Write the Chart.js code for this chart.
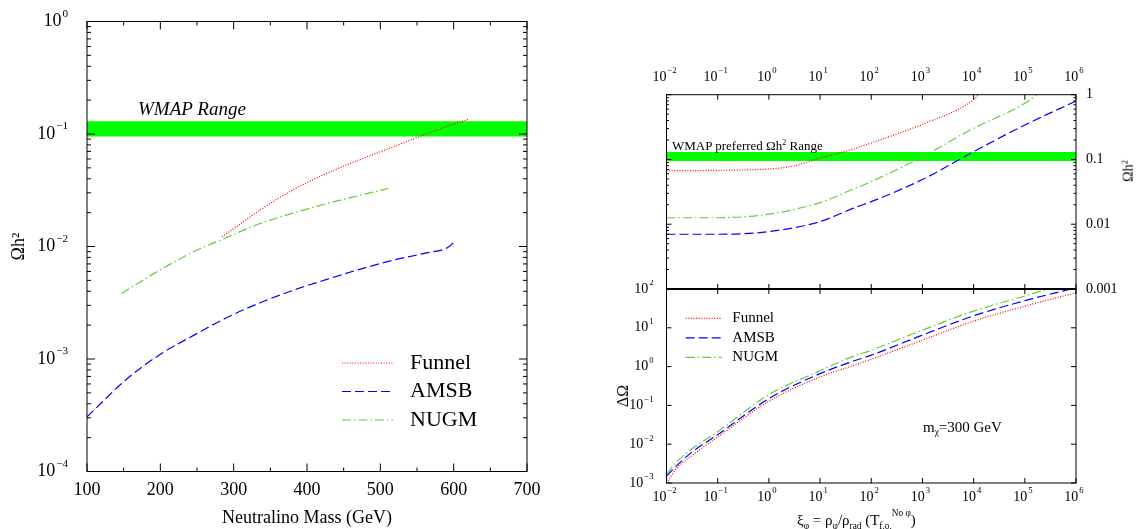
<!DOCTYPE html>
<html>
<head>
<meta charset="utf-8">
<script src="https://cdn.jsdelivr.net/npm/chart.js@4.4.1/dist/chart.umd.min.js"></script>
<style>
  html, body { margin: 0; padding: 0; background: #fff; }
  body { width: 1140px; height: 529px; position: relative; overflow: hidden;
         font-family: 'Liberation Serif', 'Times New Roman', serif; color: #000; }
  canvas { position: absolute; }
  .note { position: absolute; white-space: nowrap; line-height: 1; }
  .note sub { font-size: 0.62em; vertical-align: -0.35em; }
  .note sup { font-size: 0.62em; vertical-align: 0.55em; }
</style>
</head>
<body>
<canvas id="massChart" width="560" height="529" style="left:0;top:0"></canvas>
<canvas id="relicChart" width="560" height="300" style="left:580px;top:0"></canvas>
<canvas id="deltaChart" width="560" height="249" style="left:580px;top:280px"></canvas>

<div class="note" style="left:138px;top:108px;font-size:19px;font-style:italic;transform:translateY(-50%)">WMAP Range</div>
<div class="note" style="left:672px;top:145px;font-size:13px;transform:translateY(-50%)">WMAP preferred Ωh<sup>2</sup> Range</div>
<div class="note" style="left:1128px;top:171px;font-size:14px;transform:translate(-50%,-50%) rotate(-90deg)">Ωh<sup>2</sup></div>
<div class="note" style="left:623px;top:396px;font-size:16px;transform:translate(-50%,-50%) rotate(-90deg)">ΔΩ</div>
<div class="note" style="left:923px;top:429px;font-size:15px;transform:translateY(-50%)">m<sub>χ</sub>=300 GeV</div>
<div class="note" style="left:797px;top:520px;font-size:15px;transform:translateY(-50%)">ξ<sub>φ</sub> = ρ<sub>φ</sub>/ρ<sub>rad</sub> (T<sub>f.o.</sub><sup style="vertical-align:1em">No φ</sup>)</div>

<script>
const SERIF = "'Liberation Serif', 'Times New Roman', serif";
const RED = '#ff0000', BLUE = '#0000ff', GREEN = 'rgb(102,204,51)';

// left panel : relic density against neutralino mass
const funnelMass  = [284, 300, 336, 382, 427, 473, 518, 564, 590, 620];
const funnelOmega = [0.0122, 0.0144, 0.0211, 0.0322, 0.0447, 0.0595, 0.077, 0.101, 0.116, 0.135];
const amsbMass  = [100, 155, 200, 246, 291, 336, 382, 427, 473, 518, 560, 593, 603];
const amsbOmega = [0.000306, 0.00067, 0.0011, 0.00163, 0.00234, 0.00316, 0.0041, 0.0051, 0.0063, 0.00757, 0.0087, 0.0099, 0.0114];
const nugmMass  = [147, 200, 245, 282, 336, 382, 427, 473, 511];
const nugmOmega = [0.00383, 0.0062, 0.00897, 0.0114, 0.016, 0.0199, 0.0241, 0.0286, 0.0328];

const wmapRange = [0.095, 0.13];

// right top : relic density against xi
const funnelXi    = [0.01, 0.1, 1, 3, 10, 45, 100, 1000, 10000, 12600];
const funnelRelic = [0.067, 0.068, 0.0713, 0.079, 0.105, 0.145, 0.18, 0.35, 0.83, 1.0];
const amsbXi      = [0.01, 0.1, 1, 10, 45, 100, 1000, 10000, 100000, 1000000];
const amsbRelic   = [0.007, 0.007, 0.0077, 0.011, 0.0177, 0.0223, 0.049, 0.132, 0.34, 0.8];
const nugmXi      = [0.01, 0.1, 1, 10, 45, 100, 1000, 10000, 100000, 170000];
const nugmRelic   = [0.0126, 0.0126, 0.0143, 0.0216, 0.035, 0.0455, 0.11, 0.303, 0.736, 1.0];

// right bottom : delta omega against xi
const funnelDeltaXi = [0.01, 0.0158, 0.0316, 0.1, 1, 10, 37, 100, 1000, 10000, 100000, 1000000];
const funnelDelta   = [0.001, 0.0024, 0.0051, 0.0153, 0.128, 0.54, 0.98, 1.55, 4.8, 14.9, 36, 80];
const amsbDeltaXi   = [0.01, 0.0158, 0.0316, 0.1, 1, 10, 37, 100, 1000, 10000, 100000, 800000];
const amsbDelta     = [0.0015, 0.0028, 0.0063, 0.0176, 0.15, 0.66, 1.27, 1.97, 6.5, 20.4, 50, 100];
const nugmDeltaXi   = [0.01, 0.0158, 0.0316, 0.1, 1, 10, 37, 100, 1000, 10000, 100000, 280000];
const nugmDelta     = [0.0017, 0.0035, 0.0076, 0.021, 0.19, 0.78, 1.68, 2.65, 8.7, 27, 66, 100];

// tick values
const massTicks = [100, 200, 300, 400, 500, 600, 700];
const massMinor = [150, 250, 350, 450, 550, 650];
const omegaDecades = [1, 0.1, 0.01, 0.001, 0.0001];
const xiDecades = [0.01, 0.1, 1, 10, 100, 1000, 10000, 100000, 1000000];
const relicDecades = [1, 0.1, 0.01, 0.001];
const deltaDecades = [100, 10, 1, 0.1, 0.01, 0.001];
const keyLabels = ['Funnel', 'AMSB', 'NUGM'];

function pts(xs, ys) { return xs.map((x, i) => ({ x: x, y: ys[i] })); }

function minorsOf(decades) {
  let out = [];
  decades.forEach(d => { for (let m = 2; m < 10; m++) out.push(m * d); });
  return out;
}

function expText(v) {
  let e = Math.round(Math.log10(v));
  return e < 0 ? '\u2212' + (-e) : String(e);
}

function curve(label, data, color, dash) {
  return { label: label, data: data, borderColor: color, borderDash: dash, borderWidth: 1.2,
           pointRadius: 0, fill: false, cubicInterpolationMode: 'monotone', order: 0 };
}

function band(xMin, xMax) {
  return [
    { label: 'WMAP low', data: [{ x: xMin, y: wmapRange[0] }, { x: xMax, y: wmapRange[0] }],
      borderColor: 'rgba(0,0,0,0)', borderWidth: 0, pointRadius: 0, fill: false, order: 5 },
    { label: 'WMAP high', data: [{ x: xMin, y: wmapRange[1] }, { x: xMax, y: wmapRange[1] }],
      borderColor: 'rgba(0,0,0,0)', borderWidth: 0, pointRadius: 0, fill: '-1',
      backgroundColor: '#00ff00', order: 5 }
  ];
}

// frame round the plot with inward ticks on every side
function frameTicks(o) {
  return {
    id: 'frameTicks',
    afterDatasetsDraw(chart) {
      const ctx = chart.ctx, a = chart.chartArea;
      const sx = chart.scales.x, sy = chart.scales.y;
      ctx.save();
      ctx.strokeStyle = '#000';
      ctx.lineWidth = 1;
      ctx.strokeRect(a.left, a.top, a.right - a.left, a.bottom - a.top);
      if (o.thickTop) {
        ctx.lineWidth = 2.2;
        ctx.beginPath(); ctx.moveTo(a.left, a.top); ctx.lineTo(a.right, a.top); ctx.stroke();
      }
      ctx.lineWidth = 1;
      const seg = (x1, y1, x2, y2) => { ctx.beginPath(); ctx.moveTo(x1, y1); ctx.lineTo(x2, y2); ctx.stroke(); };
      [[o.x.major, o.x.len], [o.x.minor || [], o.x.minorLen]].forEach(([vals, len]) => {
        vals.forEach(v => {
          const p = sx.getPixelForValue(v);
          if (o.x.sides.includes('bottom')) seg(p, a.bottom, p, a.bottom - len);
          if (o.x.sides.includes('top')) seg(p, a.top, p, a.top + len);
        });
      });
      [[o.y.major, o.y.len], [o.y.minor || [], o.y.minorLen]].forEach(([vals, len]) => {
        vals.forEach(v => {
          const p = sy.getPixelForValue(v);
          if (o.y.sides.includes('left')) seg(a.left, p, a.left + len, p);
          if (o.y.sides.includes('right')) seg(a.right, p, a.right - len, p);
        });
      });
      ctx.restore();
    }
  };
}

// tick labels, plain or as powers of ten
function tickText(items) {
  return {
    id: 'tickText',
    afterDraw(chart) {
      const ctx = chart.ctx, a = chart.chartArea;
      items.forEach(it => {
        const s = chart.scales[it.scale];
        ctx.save();
        ctx.fillStyle = '#000';
        ctx.textAlign = 'left';
        ctx.textBaseline = 'middle';
        it.values.forEach(v => {
          const p = s.getPixelForValue(v);
          const base = it.power ? '10' : String(v);
          const exp = it.power ? expText(v) : '';
          ctx.font = it.size + 'px ' + SERIF;
          const wb = ctx.measureText(base).width;
          ctx.font = (it.size * 0.62) + 'px ' + SERIF;
          const we = exp ? ctx.measureText(exp).width + 1 : 0;
          let x, y;
          if (it.side === 'left') { x = a.left - it.gap - wb - we; y = p; }
          else if (it.side === 'right') { x = a.right + it.gap; y = p; }
          else {
            x = p - (wb + we) / 2 + (it.shift || 0);
            y = it.side === 'bottom' ? a.bottom + it.gap : a.top - it.gap;
          }
          ctx.font = it.size + 'px ' + SERIF;
          ctx.fillText(base, x, y);
          if (exp) {
            ctx.font = (it.size * 0.62) + 'px ' + SERIF;
            ctx.fillText(exp, x + wb + 1, y - it.size * 0.42);
          }
        });
        ctx.restore();
      });
    }
  };
}

// key drawn inside the plot: line sample then name
function lineKey(o) {
  return {
    id: 'lineKey',
    afterDraw(chart) {
      const ctx = chart.ctx;
      let y = o.y;
      keyLabels.forEach(name => {
        const ds = chart.data.datasets.find(d => d.label === name);
        ctx.save();
        ctx.strokeStyle = ds.borderColor;
        ctx.lineWidth = ds.borderWidth;
        ctx.setLineDash(ds.borderDash || []);
        ctx.beginPath(); ctx.moveTo(o.x, y); ctx.lineTo(o.x + o.len, y); ctx.stroke();
        ctx.setLineDash([]);
        ctx.fillStyle = '#000';
        ctx.font = o.size + 'px ' + SERIF;
        ctx.textBaseline = 'middle';
        ctx.fillText(name, o.x + o.len + o.gap, y);
        ctx.restore();
        y += o.row;
      });
    }
  };
}

const hidden = { grid: { display: false }, border: { display: false }, ticks: { display: false } };
const quiet = { legend: { display: false }, tooltip: { enabled: false } };
const DOT = [1, 1.6], DASH = [9, 4], DASHDOT = [9, 3, 1.5, 3];

// left panel
new Chart(document.getElementById('massChart'), {
  type: 'line',
  data: {
    datasets: [
      ...band(100, 700),
      curve('Funnel', pts(funnelMass, funnelOmega), RED, DOT),
      curve('AMSB', pts(amsbMass, amsbOmega), BLUE, DASH),
      curve('NUGM', pts(nugmMass, nugmOmega), GREEN, DASHDOT)
    ]
  },
  options: {
    responsive: false, animation: false, events: [],
    layout: { padding: { top: 21.5, right: 33, left: 0, bottom: 0 } },
    scales: {
      x: { type: 'linear', position: 'bottom', min: 100, max: 700, ...hidden,
           title: { display: true, text: 'Neutralino Mass (GeV)', color: '#000',
                    font: { family: SERIF, size: 18 }, padding: 0 },
           afterFit(s) { s.height = 57.5; } },
      y: { type: 'logarithmic', position: 'left', min: 0.0001, max: 1, ...hidden,
           title: { display: true, text: 'Ωh²', color: '#000',
                    font: { family: SERIF, size: 18 }, padding: { top: 8, bottom: 0 } },
           afterFit(s) { s.width = 87; } }
    },
    plugins: quiet
  },
  plugins: [
    frameTicks({
      x: { major: massTicks, minor: massMinor, len: 8, minorLen: 4, sides: ['bottom', 'top'] },
      y: { major: omegaDecades, minor: minorsOf(omegaDecades.slice(1)), len: 8, minorLen: 4, sides: ['left', 'right'] }
    }),
    tickText([
      { scale: 'x', side: 'bottom', values: massTicks, gap: 18.5, size: 18 },
      { scale: 'y', side: 'left', values: omegaDecades, power: true, gap: 19, size: 18 }
    ]),
    lineKey({ x: 342, y: 363, len: 51, gap: 17, row: 28.5, size: 22 })
  ]
});

// right top panel
new Chart(document.getElementById('relicChart'), {
  type: 'line',
  data: {
    datasets: [
      ...band(0.01, 1000000),
      curve('Funnel', pts(funnelXi, funnelRelic), RED, DOT),
      curve('AMSB', pts(amsbXi, amsbRelic), BLUE, DASH),
      curve('NUGM', pts(nugmXi, nugmRelic), GREEN, DASHDOT)
    ]
  },
  options: {
    responsive: false, animation: false, events: [],
    layout: { padding: { left: 86.5, bottom: 11, top: 0, right: 0 } },
    scales: {
      x: { type: 'logarithmic', position: 'top', min: 0.01, max: 1000000, ...hidden,
           afterFit(s) { s.height = 94.7; } },
      y: { type: 'logarithmic', position: 'right', min: 0.001, max: 1, ...hidden,
           afterFit(s) { s.width = 64; } }
    },
    plugins: quiet
  },
  plugins: [
    frameTicks({
      x: { major: xiDecades, len: 5, sides: ['top', 'bottom'] },
      y: { major: relicDecades, minor: minorsOf(relicDecades.slice(1)), len: 5, minorLen: 2.5, sides: ['left', 'right'] }
    }),
    tickText([
      { scale: 'x', side: 'top', values: xiDecades, power: true, gap: 17.7, size: 14, shift: -2 },
      { scale: 'y', side: 'right', values: relicDecades, gap: 10, size: 14 }
    ])
  ]
});

// right bottom panel
new Chart(document.getElementById('deltaChart'), {
  type: 'line',
  data: {
    datasets: [
      curve('Funnel', pts(funnelDeltaXi, funnelDelta), RED, DOT),
      curve('AMSB', pts(amsbDeltaXi, amsbDelta), BLUE, DASH),
      curve('NUGM', pts(nugmDeltaXi, nugmDelta), GREEN, DASHDOT)
    ]
  },
  options: {
    responsive: false, animation: false, events: [],
    layout: { padding: { top: 9, right: 64, left: 0, bottom: 0 } },
    scales: {
      x: { type: 'logarithmic', position: 'bottom', min: 0.01, max: 1000000, ...hidden,
           afterFit(s) { s.height = 46; } },
      y: { type: 'logarithmic', position: 'left', min: 0.001, max: 100, ...hidden,
           afterFit(s) { s.width = 86.5; } }
    },
    plugins: quiet
  },
  plugins: [
    frameTicks({
      thickTop: true,
      x: { major: xiDecades, len: 5, sides: ['top', 'bottom'] },
      y: { major: deltaDecades, len: 5, sides: ['left', 'right'] }
    }),
    tickText([
      { scale: 'x', side: 'bottom', values: xiDecades, power: true, gap: 14, size: 14, shift: -2 },
      { scale: 'y', side: 'left', values: deltaDecades, power: true, gap: 13, size: 14 }
    ]),
    lineKey({ x: 105.7, y: 38.3, len: 36, gap: 10.6, row: 19.5, size: 15 })
  ]
});
</script>
</body>
</html>
